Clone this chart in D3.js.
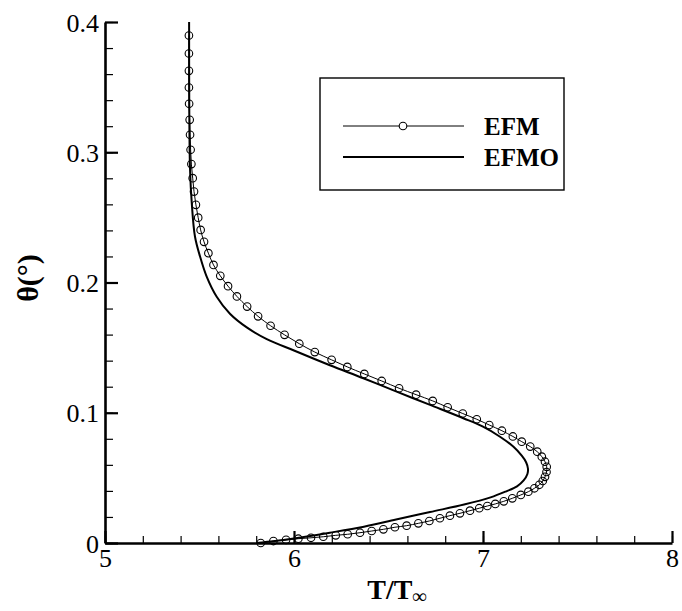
<!DOCTYPE html>
<html>
<head>
<meta charset="utf-8">
<script src="https://cdn.jsdelivr.net/npm/d3@7"></script>
<style>
  html, body { margin: 0; padding: 0; background: #fff; }
  svg { display: block; }
</style>
</head>
<body>
<svg id="chart" width="682" height="611"></svg>
<script>
// Temperature ratio T/T∞ versus angle θ (degrees)
const efmT = [5.824, 5.891, 5.958, 6.023, 6.090, 6.155, 6.221, 6.284, 6.349, 6.411, 6.473, 6.534, 6.596, 6.658, 6.716, 6.772, 6.825, 6.878, 6.931, 6.980, 7.023,
  7.065, 7.110, 7.155, 7.200, 7.240, 7.272, 7.298, 7.316, 7.328, 7.336, 7.337, 7.328, 7.311, 7.287, 7.250, 7.205, 7.158, 7.100,
  7.033, 6.967, 6.893, 6.813, 6.734, 6.646, 6.556, 6.464, 6.372, 6.282, 6.199, 6.110, 6.028, 5.950, 5.876, 5.810, 5.752, 5.698,
  5.651, 5.610, 5.574, 5.547, 5.524, 5.506, 5.493, 5.481, 5.471, 5.464, 5.457, 5.453, 5.450, 5.448, 5.445, 5.444, 5.444, 5.444, 5.444];
const efmTheta = [0.0000, 0.0015, 0.0024, 0.0033, 0.0040, 0.0048, 0.0059, 0.0067, 0.0079, 0.0092, 0.0105, 0.0121, 0.0133, 0.0151, 0.0169, 0.0190, 0.0210, 0.0228, 0.0248, 0.0267, 0.0284,
  0.0300, 0.0320, 0.0343, 0.0369, 0.0394, 0.0420, 0.0447, 0.0476, 0.0508, 0.0545, 0.0585, 0.0624, 0.0663, 0.0701, 0.0740, 0.0778, 0.0818, 0.0862,
  0.0906, 0.0950, 0.0994, 0.1042, 0.1091, 0.1139, 0.1188, 0.1244, 0.1298, 0.1352, 0.1406, 0.1466, 0.1530, 0.1598, 0.1668, 0.1740, 0.1815, 0.1893,
  0.1972, 0.2051, 0.2135, 0.2225, 0.2312, 0.2404, 0.2498, 0.2596, 0.2698, 0.2801, 0.2909, 0.3019, 0.3134, 0.3249, 0.3372, 0.3497, 0.3625, 0.3758, 0.3896];

const efmoT = [5.80, 5.90, 6.00, 6.19, 6.37, 6.54, 6.72, 6.90, 7.04, 7.12, 7.18, 7.215, 7.235, 7.238, 7.228, 7.205, 7.16, 7.09, 7.00,
  6.896, 6.72, 6.543, 6.367, 6.19, 6.00, 5.856, 5.75, 5.661, 5.591, 5.538, 5.503, 5.476, 5.459, 5.450, 5.446, 5.445];
const efmoTheta = [0.0000, 0.0015, 0.0035, 0.0079, 0.0125, 0.0180, 0.0238, 0.0295, 0.0350, 0.0395, 0.0435, 0.0480, 0.0530, 0.0570, 0.0620, 0.0670, 0.0740, 0.0816, 0.0893,
  0.0958, 0.1060, 0.1162, 0.1265, 0.1365, 0.1478, 0.1565, 0.1655, 0.1760, 0.1890, 0.2045, 0.2199, 0.2353, 0.2611, 0.2865, 0.3300, 0.4000];

const xMajor = [5, 6, 7, 8];
const xMinor = d3.range(5, 8.001, 0.2);
const yMajor = [0, 0.1, 0.2, 0.3, 0.4];
const yMinor = d3.range(0, 0.4001, 0.02);
const seriesNames = ["EFM", "EFMO"];

const SERIF = "'Liberation Serif', 'Times New Roman', Times, serif";

const svg = d3.select("#chart");
const x = d3.scaleLinear().domain([5, 8]).range([105, 672]);
const y = d3.scaleLinear().domain([0, 0.4]).range([543, 22]);

// Minor ticks (inward, no labels)
const xMinorG = svg.append("g").attr("transform", `translate(0,${y(0)})`)
  .call(d3.axisBottom(x).tickValues(xMinor).tickSizeInner(-7).tickSizeOuter(0).tickFormat(""));
xMinorG.select(".domain").remove();
xMinorG.selectAll(".tick line").attr("stroke", "#000").attr("stroke-width", 1.2);

const yMinorG = svg.append("g").attr("transform", `translate(${x(5)},0)`)
  .call(d3.axisLeft(y).tickValues(yMinor).tickSizeInner(-8).tickSizeOuter(0).tickFormat(""));
yMinorG.select(".domain").remove();
yMinorG.selectAll(".tick line").attr("stroke", "#000").attr("stroke-width", 1.2);

// Major ticks, axis lines and labels
const xAxisG = svg.append("g").attr("transform", `translate(0,${y(0)})`)
  .call(d3.axisBottom(x).tickValues(xMajor).tickSizeInner(-12).tickSizeOuter(0).tickPadding(0).tickFormat(d3.format("d")));
xAxisG.select(".domain").attr("stroke", "#000").attr("stroke-width", 2.6);
xAxisG.selectAll(".tick line").attr("stroke", "#000").attr("stroke-width", 2.2);
xAxisG.selectAll(".tick text").attr("font-size", 26).attr("y", 24).attr("dy", "0");

const yAxisG = svg.append("g").attr("transform", `translate(${x(5)},0)`)
  .call(d3.axisLeft(y).tickValues(yMajor).tickSizeInner(-13).tickSizeOuter(0).tickPadding(0)
    .tickFormat(d => d === 0 ? "0" : d3.format(".1f")(d)));
yAxisG.select(".domain").attr("stroke", "#000").attr("stroke-width", 2.6);
yAxisG.selectAll(".tick line").attr("stroke", "#000").attr("stroke-width", 2.2);
yAxisG.selectAll(".tick text").attr("font-size", 26).attr("x", -6).attr("dy", "0.35em");

// Axis titles
const xt = svg.append("text").attr("x", 397).attr("y", 599).attr("text-anchor", "middle")
  .attr("font-size", 28).attr("font-weight", "bold");
xt.append("tspan").text("T/T");
xt.append("tspan").attr("font-size", 20).attr("dy", 4).text("∞");

svg.append("text").attr("transform", "translate(38,278) rotate(-90)")
  .attr("text-anchor", "middle").attr("font-size", 30).attr("font-weight", "bold")
  .text("θ(°)");

// Curves
const efm = efmT.map((t, i) => [t, efmTheta[i]]);
const efmo = efmoT.map((t, i) => [t, efmoTheta[i]]);
const line = d3.line().x(d => x(d[0])).y(d => y(d[1])).curve(d3.curveCatmullRom.alpha(0.5));

svg.append("path").datum(efmo).attr("d", line)
  .attr("fill", "none").attr("stroke", "#000").attr("stroke-width", 2);

svg.append("path").datum(efm).attr("d", line)
  .attr("fill", "none").attr("stroke", "#000").attr("stroke-width", 1);

svg.append("g").selectAll("circle").data(efm).join("circle")
  .attr("cx", d => x(d[0])).attr("cy", d => y(d[1])).attr("r", 3.8)
  .attr("fill", "none").attr("stroke", "#000").attr("stroke-width", 1.1);

// Legend
const lg = svg.append("g");
lg.append("rect").attr("x", 320).attr("y", 78).attr("width", 244).attr("height", 112)
  .attr("fill", "#fff").attr("stroke", "#000").attr("stroke-width", 1.4);
const rowsY = [126, 157];
seriesNames.forEach((name, i) => {
  lg.append("line").attr("x1", 343).attr("x2", 464).attr("y1", rowsY[i]).attr("y2", rowsY[i])
    .attr("stroke", "#000").attr("stroke-width", i === 0 ? 1 : 2);
  if (i === 0) {
    lg.append("circle").attr("cx", 403).attr("cy", rowsY[i]).attr("r", 3.8)
      .attr("fill", "#fff").attr("stroke", "#000").attr("stroke-width", 1.1);
  }
  lg.append("text").attr("x", 484).attr("y", rowsY[i]).attr("dy", "0.35em")
    .attr("font-size", 25).attr("font-weight", "bold").text(name);
});

// Serif face for every label
svg.selectAll("text").style("font-family", SERIF).attr("fill", "#000");
</script>
</body>
</html>
